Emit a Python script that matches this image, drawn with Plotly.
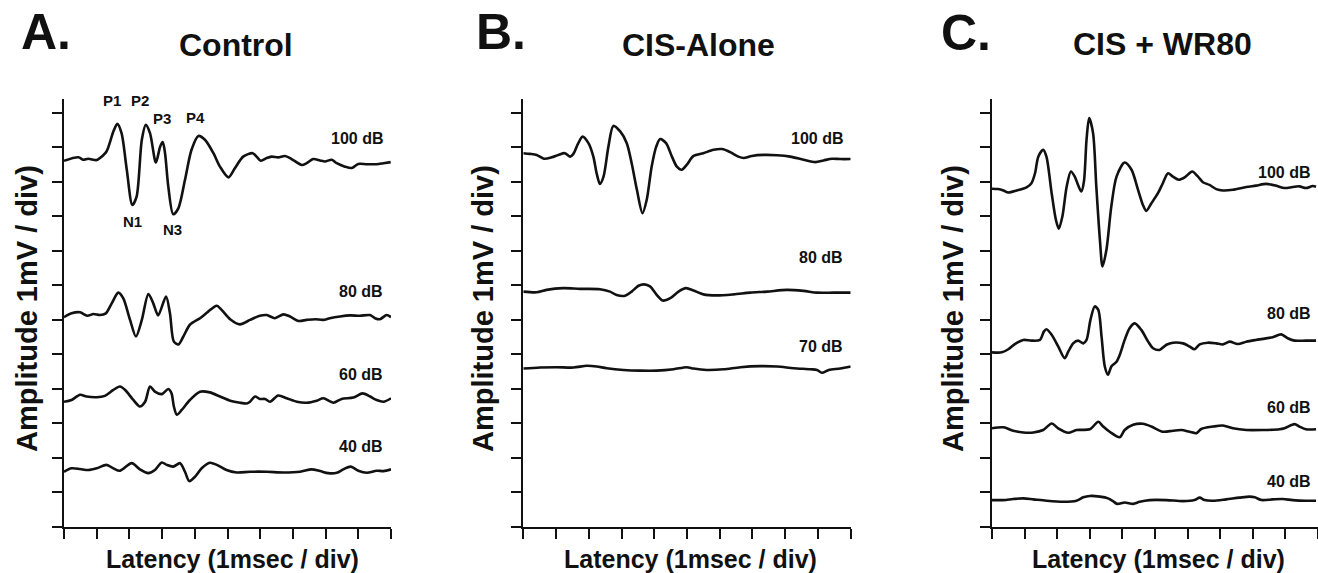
import plotly.graph_objects as go

W, H = 1318, 573

# ---------------- Data (latency in ms-divisions, amplitude in mV-divisions) ----------------
# Panel A: Control
ctl_100_x = [0, 0.44, 0.59, 0.74, 1.00, 1.10, 1.30, 1.51, 1.63, 1.76, 1.92, 2.09, 2.22, 2.38, 2.50, 2.63, 2.81, 2.94, 3.02, 3.09, 3.19, 3.34, 3.50, 3.70, 3.90, 4.11, 4.31, 4.57, 4.77, 5.03, 5.23, 5.48, 5.77, 5.89, 6.02, 6.20, 6.35, 6.55, 6.76, 6.96, 7.27, 7.42, 7.62, 7.83, 7.98, 8.19, 8.34, 8.59, 8.80, 9.00, 9.26, 9.56, 9.77, 9.99]
ctl_100_y = [10.61, 10.71, 10.64, 10.67, 10.63, 10.69, 10.88, 11.46, 11.68, 11.41, 10.35, 9.33, 9.57, 11.22, 11.65, 11.41, 10.56, 11.02, 11.15, 10.83, 9.86, 9.06, 9.24, 10.06, 10.93, 11.33, 11.22, 10.83, 10.44, 10.13, 10.40, 10.73, 10.83, 10.73, 10.61, 10.69, 10.73, 10.71, 10.75, 10.66, 10.49, 10.54, 10.66, 10.62, 10.59, 10.64, 10.54, 10.44, 10.40, 10.52, 10.51, 10.51, 10.54, 10.57]

ctl_80_x = [0, 0.23, 0.49, 0.71, 0.90, 1.10, 1.28, 1.46, 1.66, 1.81, 2.02, 2.20, 2.38, 2.58, 2.73, 2.88, 3.12, 3.24, 3.36, 3.50, 3.65, 3.85, 4.16, 4.41, 4.67, 4.82, 5.08, 5.38, 5.69, 5.99, 6.20, 6.45, 6.71, 6.91, 7.17, 7.42, 7.68, 7.93, 8.13, 8.44, 8.75, 9.05, 9.36, 9.51, 9.66, 9.87, 10.0]
ctl_80_y = [6.08, 6.19, 6.22, 6.12, 6.17, 6.14, 6.19, 6.48, 6.79, 6.63, 6.00, 5.52, 6.00, 6.75, 6.48, 6.13, 6.68, 6.19, 5.37, 5.29, 5.52, 5.86, 6.05, 6.24, 6.41, 6.29, 6.02, 5.87, 6.00, 6.12, 6.14, 6.05, 6.16, 6.10, 5.97, 6.00, 6.02, 6.00, 6.05, 6.10, 6.13, 6.12, 6.14, 6.05, 6.02, 6.14, 6.08]

ctl_60_x = [0, 0.23, 0.49, 0.69, 1.00, 1.25, 1.51, 1.71, 1.87, 2.12, 2.32, 2.48, 2.63, 2.78, 2.99, 3.19, 3.29, 3.36, 3.45, 3.60, 3.85, 4.16, 4.46, 4.77, 5.08, 5.38, 5.59, 5.69, 5.84, 5.99, 6.15, 6.30, 6.55, 6.81, 7.12, 7.42, 7.73, 7.93, 8.24, 8.49, 8.85, 9.13, 9.36, 9.56, 9.77, 10.0]
ctl_60_y = [3.63, 3.68, 3.83, 3.78, 3.76, 3.80, 3.97, 4.07, 3.97, 3.68, 3.49, 3.63, 4.07, 3.92, 3.85, 4.00, 3.87, 3.49, 3.25, 3.39, 3.68, 3.92, 3.90, 3.78, 3.66, 3.60, 3.58, 3.63, 3.78, 3.71, 3.71, 3.63, 3.81, 3.73, 3.63, 3.60, 3.66, 3.73, 3.60, 3.71, 3.75, 3.87, 3.78, 3.68, 3.63, 3.73]

ctl_40_x = [0, 0.23, 0.49, 0.74, 1.00, 1.30, 1.51, 1.71, 2.07, 2.32, 2.58, 2.78, 2.99, 3.14, 3.34, 3.55, 3.70, 3.83, 4.01, 4.21, 4.46, 4.67, 4.97, 5.28, 5.69, 6.20, 6.71, 7.22, 7.57, 7.83, 8.08, 8.34, 8.54, 8.77, 9.00, 9.26, 9.56, 9.77, 10.0]
ctl_40_y = [1.60, 1.70, 1.68, 1.65, 1.70, 1.80, 1.70, 1.63, 1.85, 1.67, 1.56, 1.65, 1.87, 1.80, 1.75, 1.85, 1.60, 1.33, 1.46, 1.70, 1.86, 1.80, 1.65, 1.58, 1.60, 1.60, 1.58, 1.60, 1.67, 1.62, 1.56, 1.57, 1.67, 1.75, 1.63, 1.57, 1.63, 1.62, 1.67]

# Panel B: CIS-Alone
cis_100_x = [0, 0.20, 0.41, 0.63, 0.87, 1.07, 1.27, 1.43, 1.53, 1.68, 1.81, 1.99, 2.14, 2.24, 2.34, 2.45, 2.60, 2.75, 2.96, 3.16, 3.31, 3.47, 3.64, 3.77, 3.92, 4.06, 4.18, 4.36, 4.54, 4.69, 4.84, 4.99, 5.20, 5.50, 5.81, 6.07, 6.32, 6.57, 6.73, 6.98, 7.34, 7.75, 8.15, 8.56, 8.92, 9.17, 9.43, 9.68, 10.0]
cis_100_y = [10.83, 10.81, 10.78, 10.67, 10.71, 10.78, 10.83, 10.73, 10.81, 11.12, 11.31, 11.12, 10.73, 10.25, 9.94, 10.15, 11.02, 11.62, 11.46, 11.12, 10.54, 9.77, 9.09, 9.48, 10.44, 11.02, 11.24, 11.12, 10.73, 10.44, 10.35, 10.49, 10.75, 10.83, 10.93, 10.95, 10.86, 10.73, 10.69, 10.75, 10.78, 10.77, 10.73, 10.64, 10.57, 10.62, 10.67, 10.66, 10.66]

cis_80_x = [0, 0.41, 0.71, 1.22, 1.73, 2.34, 2.65, 2.85, 3.11, 3.31, 3.52, 3.69, 3.87, 4.08, 4.26, 4.49, 4.74, 4.97, 5.20, 5.50, 5.91, 6.42, 6.93, 7.44, 8.05, 8.56, 8.97, 9.48, 10.0]
cis_80_y = [6.82, 6.80, 6.87, 6.92, 6.90, 6.89, 6.82, 6.72, 6.70, 6.82, 6.99, 7.03, 6.97, 6.72, 6.56, 6.63, 6.82, 6.92, 6.85, 6.74, 6.71, 6.74, 6.79, 6.82, 6.87, 6.84, 6.79, 6.79, 6.79]

cis_70_x = [0, 0.51, 1.02, 1.53, 1.94, 2.24, 2.55, 3.06, 3.57, 4.08, 4.59, 4.99, 5.20, 5.61, 6.12, 6.63, 7.24, 7.75, 8.26, 8.77, 8.97, 9.12, 9.33, 9.68, 10.0]
cis_70_y = [4.59, 4.62, 4.63, 4.62, 4.67, 4.65, 4.60, 4.55, 4.53, 4.53, 4.57, 4.63, 4.59, 4.55, 4.57, 4.63, 4.66, 4.65, 4.60, 4.57, 4.55, 4.47, 4.55, 4.59, 4.65]

# Panel C: CIS + WR80
wr_100_x = [0, 0.19, 0.35, 0.50, 0.76, 1.06, 1.21, 1.32, 1.42, 1.57, 1.67, 1.83, 1.96, 2.05, 2.16, 2.29, 2.42, 2.54, 2.64, 2.74, 2.82, 2.90, 2.98, 3.10, 3.20, 3.31, 3.39, 3.51, 3.66, 3.82, 4.07, 4.28, 4.48, 4.63, 4.73, 4.89, 5.09, 5.24, 5.40, 5.55, 5.73, 5.94, 6.14, 6.32, 6.47, 6.67, 6.88, 7.08, 7.39, 7.80, 8.10, 8.41, 8.71, 8.97, 9.22, 9.43, 9.63, 9.84, 9.94]
wr_100_y = [9.80, 9.79, 9.75, 9.69, 9.75, 9.84, 9.96, 10.25, 10.73, 10.93, 10.73, 9.67, 8.90, 8.64, 9.00, 9.86, 10.30, 10.15, 9.91, 9.72, 10.01, 11.22, 11.85, 11.41, 9.86, 8.32, 7.55, 8.03, 9.29, 10.15, 10.56, 10.35, 9.77, 9.33, 9.16, 9.38, 9.67, 9.96, 10.25, 10.15, 10.06, 10.15, 10.30, 10.15, 9.99, 9.91, 9.79, 9.75, 9.77, 9.85, 9.89, 9.94, 9.89, 9.82, 9.85, 9.87, 9.82, 9.88, 9.86]

wr_80_x = [0, 0.30, 0.50, 0.70, 0.96, 1.21, 1.47, 1.59, 1.67, 1.83, 2.03, 2.23, 2.34, 2.49, 2.64, 2.80, 2.90, 3.02, 3.15, 3.26, 3.36, 3.46, 3.56, 3.66, 3.82, 3.92, 4.07, 4.22, 4.38, 4.58, 4.79, 4.94, 5.14, 5.35, 5.55, 5.86, 6.06, 6.21, 6.37, 6.62, 6.88, 7.08, 7.29, 7.54, 7.80, 8.10, 8.31, 8.61, 8.87, 9.07, 9.28, 9.63, 9.94]
wr_80_y = [5.06, 5.06, 5.15, 5.30, 5.42, 5.40, 5.42, 5.66, 5.73, 5.57, 5.23, 4.89, 5.08, 5.32, 5.40, 5.32, 5.42, 6.00, 6.39, 6.29, 5.52, 4.65, 4.41, 4.65, 4.79, 4.99, 5.42, 5.76, 5.90, 5.71, 5.37, 5.18, 5.13, 5.28, 5.34, 5.32, 5.23, 5.15, 5.29, 5.34, 5.32, 5.29, 5.37, 5.30, 5.37, 5.42, 5.45, 5.50, 5.58, 5.47, 5.40, 5.40, 5.40]

wr_60_x = [0, 0.35, 0.65, 0.96, 1.27, 1.57, 1.83, 2.03, 2.34, 2.59, 3.00, 3.26, 3.41, 3.61, 3.92, 4.07, 4.33, 4.63, 4.89, 5.24, 5.55, 5.81, 6.06, 6.27, 6.42, 6.78, 7.08, 7.39, 7.80, 8.31, 8.82, 8.97, 9.28, 9.43, 9.63, 9.94]
wr_60_y = [2.86, 2.89, 2.79, 2.74, 2.74, 2.81, 3.00, 2.86, 2.73, 2.81, 2.83, 3.05, 2.91, 2.76, 2.60, 2.81, 2.96, 2.99, 2.91, 2.76, 2.79, 2.81, 2.76, 2.72, 2.84, 2.91, 2.94, 2.86, 2.81, 2.81, 2.83, 2.86, 2.98, 2.91, 2.83, 2.83]

wr_40_x = [0, 0.35, 0.65, 0.96, 1.27, 1.67, 2.18, 2.59, 2.80, 3.00, 3.31, 3.56, 3.71, 3.84, 4.07, 4.33, 4.53, 4.84, 5.35, 5.86, 6.21, 6.37, 6.52, 6.78, 7.18, 7.59, 7.90, 8.06, 8.27, 8.61, 8.92, 9.22, 9.63, 9.94]
wr_40_y = [0.78, 0.78, 0.81, 0.83, 0.80, 0.76, 0.73, 0.76, 0.86, 0.90, 0.88, 0.83, 0.75, 0.67, 0.71, 0.67, 0.73, 0.78, 0.78, 0.75, 0.78, 0.85, 0.78, 0.76, 0.80, 0.85, 0.88, 0.86, 0.78, 0.80, 0.81, 0.78, 0.76, 0.76]

# Labels
panel_letters = ["A.", "B.", "C."]
panel_titles = ["Control", "CIS-Alone", "CIS + WR80"]
ctl_levels = ["100 dB", "80 dB", "60 dB", "40 dB"]
cis_levels = ["100 dB", "80 dB", "70 dB"]
wr_levels = ["100 dB", "80 dB", "60 dB", "40 dB"]
peak_labels = ["P1", "P2", "P3", "P4", "N1", "N3"]
x_title = "Latency (1msec / div)"
y_title = "Amplitude 1mV / div)"
x_ticks = list(range(0, 11))
y_ticks = list(range(0, 13))

# ---------------- Figure ----------------
FONT = "Liberation Sans, Arial, Helvetica, sans-serif"
INK = "#111111"
LW = 2.6

fig = go.Figure()

panels = [
    ("x", "y", [(ctl_100_x, ctl_100_y), (ctl_80_x, ctl_80_y), (ctl_60_x, ctl_60_y), (ctl_40_x, ctl_40_y)]),
    ("x2", "y2", [(cis_100_x, cis_100_y), (cis_80_x, cis_80_y), (cis_70_x, cis_70_y)]),
    ("x3", "y3", [(wr_100_x, wr_100_y), (wr_80_x, wr_80_y), (wr_60_x, wr_60_y), (wr_40_x, wr_40_y)]),
]
for xa, ya, series in panels:
    for xs, ys in series:
        fig.add_trace(go.Scatter(x=xs, y=ys, mode="lines", xaxis=xa, yaxis=ya,
                                 line=dict(color=INK, width=LW, shape="spline", smoothing=0.8),
                                 showlegend=False, hoverinfo="skip"))

def px2paper(px, py):
    return px / W, 1 - py / H

x_domains = [(64, 391), (523.3, 850.7), (992, 1318.3)]
y_dom = [(H - 527) / H, (H - 99) / H]

axis_common = dict(showline=True, linecolor=INK, linewidth=2, ticks="outside",
                   ticklen=10, tickwidth=2, tickcolor=INK, showticklabels=False,
                   showgrid=False, zeroline=False, fixedrange=True)
layout_axes = {}
for i, (a, b) in enumerate(x_domains):
    sfx = "" if i == 0 else str(i + 1)
    layout_axes["xaxis" + sfx] = dict(axis_common, domain=[a / W, min(b / W, 1.0)],
                                      range=[0, 10], tickvals=x_ticks,
                                      anchor="y" + sfx)
    layout_axes["yaxis" + sfx] = dict(axis_common, domain=y_dom, range=[0, 12.4],
                                      tickvals=y_ticks, anchor="x" + sfx)

annotations = []

def add_text(text, x, y, size, xref="paper", yref="paper", angle=0):
    annotations.append(dict(text="<b>" + text + "</b>", x=x, y=y, xref=xref, yref=yref,
                            showarrow=False, xanchor="center", yanchor="middle",
                            textangle=angle, font=dict(family=FONT, size=size, color=INK)))

# Panel letters and titles
letter_pos = [(46, 32), (501, 32), (966, 33)]
title_pos = [(236, 45), (698, 45), (1162, 44)]
for i in range(3):
    lx, ly = px2paper(*letter_pos[i])
    add_text(panel_letters[i], lx, ly, 50)
    tx, ty = px2paper(*title_pos[i])
    add_text(panel_titles[i], tx, ty, 32)

# Axis titles
xt_pos = [(232, 559), (690, 559), (1158, 559)]
yt_pos = [(27, 309), (483, 309), (953, 309)]
for i in range(3):
    ax_, ay_ = px2paper(*xt_pos[i])
    add_text(x_title, ax_, ay_, 25)
    bx, by = px2paper(*yt_pos[i])
    add_text(y_title, bx, by, 29, angle=-90)

# Level labels (data coordinates)
ctl_lab_pos = [(8.95, 11.25), (9.07, 6.82), (9.07, 4.41), (9.07, 2.33)]
cis_lab_pos = [(8.97, 11.25), (9.09, 7.80), (9.09, 5.23)]
wr_lab_pos = [(8.95, 10.26), (9.10, 6.20), (9.10, 3.46), (9.10, 1.33)]
for lab, (x, y) in zip(ctl_levels, ctl_lab_pos):
    add_text(lab, x, y, 16, "x", "y")
for lab, (x, y) in zip(cis_levels, cis_lab_pos):
    add_text(lab, x, y, 16, "x2", "y2")
for lab, (x, y) in zip(wr_levels, wr_lab_pos):
    add_text(lab, x, y, 16, "x3", "y3")

# Peak labels on Control 100 dB
peak_pos = [(1.46, 12.36), (2.32, 12.36), (2.99, 11.84), (4.01, 11.86), (2.10, 8.84), (3.33, 8.61)]
for lab, (x, y) in zip(peak_labels, peak_pos):
    add_text(lab, x, y, 15, "x", "y")

fig.update_layout(width=W, height=H, margin=dict(l=0, r=0, t=0, b=0),
                  paper_bgcolor="white", plot_bgcolor="white",
                  annotations=annotations, showlegend=False, **layout_axes)

# remove the browser's default 8px page margin so the figure sits at (0, 0)
fig.write_html("out.html", config={"displayModeBar": False},
               post_script="document.body.style.margin='0';document.body.style.overflow='hidden';")
